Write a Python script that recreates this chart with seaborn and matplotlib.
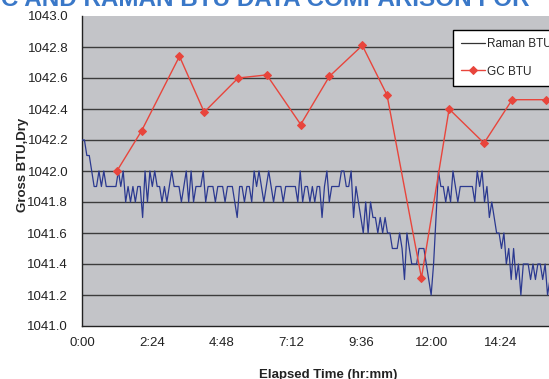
import numpy as np
import pandas as pd
import matplotlib
matplotlib.use("Agg")
import matplotlib.pyplot as plt
import seaborn as sns

"""
Data (read from the picture)
    x : elapsed time in minutes
    y : gross BTU, dry
"""
# Raman analyser, one reading every 5 minutes
raman_btu = [
    1042.2, 1042.2, 1042.1, 1042.1, 1042.0, 1041.9, 1041.9, 1042.0, 1041.9, 1042.0,
    1041.9, 1041.9, 1041.9, 1041.9, 1041.9, 1042.0, 1041.9, 1042.0, 1041.8, 1041.9,
    1041.8, 1041.9, 1041.8, 1041.9, 1041.9, 1041.7, 1042.0, 1041.8, 1042.0, 1041.9,
    1042.0, 1041.9, 1041.9, 1041.8, 1041.9, 1041.8, 1041.9, 1042.0, 1041.9, 1041.9,
    1041.9, 1041.8, 1041.9, 1042.0, 1041.8, 1042.0, 1041.8, 1041.9, 1041.9, 1041.9,
    1042.0, 1041.8, 1041.9, 1041.9, 1041.9, 1041.8, 1041.9, 1041.9, 1041.9, 1041.8,
    1041.9, 1041.9, 1041.9, 1041.8, 1041.7, 1041.9, 1041.9, 1041.8, 1041.9, 1041.9,
    1041.8, 1042.0, 1041.9, 1042.0, 1041.9, 1041.8, 1041.9, 1042.0, 1041.9, 1041.8,
    1041.9, 1041.9, 1041.9, 1041.8, 1041.9, 1041.9, 1041.9, 1041.9, 1041.9, 1041.8,
    1042.0, 1041.8, 1041.9, 1041.9, 1041.8, 1041.9, 1041.8, 1041.9, 1041.9, 1041.7,
    1041.9, 1042.0, 1041.8, 1041.9, 1041.9, 1041.9, 1041.9, 1042.0, 1042.0, 1041.9,
    1041.9, 1042.0, 1041.7, 1041.9, 1041.8, 1041.7, 1041.6, 1041.8, 1041.6, 1041.8,
    1041.7, 1041.7, 1041.6, 1041.7, 1041.6, 1041.7, 1041.6, 1041.6, 1041.5, 1041.5,
    1041.5, 1041.6, 1041.5, 1041.3, 1041.6, 1041.5, 1041.4, 1041.4, 1041.4, 1041.5,
    1041.5, 1041.5, 1041.4, 1041.3, 1041.2, 1041.4, 1041.7, 1042.0, 1041.9, 1041.9,
    1041.8, 1041.9, 1041.8, 1042.0, 1041.9, 1041.8, 1041.9, 1041.9, 1041.9, 1041.9,
    1041.9, 1041.9, 1041.8, 1042.0, 1041.9, 1042.0, 1041.8, 1041.9, 1041.7, 1041.8,
    1041.7, 1041.6, 1041.6, 1041.5, 1041.6, 1041.4, 1041.5, 1041.3, 1041.5, 1041.3,
    1041.4, 1041.2, 1041.4, 1041.4, 1041.4, 1041.3, 1041.4, 1041.3, 1041.4, 1041.4,
    1041.3, 1041.4, 1041.2, 1041.3,
]
raman_minutes = [5 * i for i in range(len(raman_btu))]

# GC samples
gc_minutes = [72, 123, 201, 252, 322, 381, 451, 510, 578, 629, 700, 757, 829, 887, 957]
gc_btu = [1042.00, 1042.26, 1042.74, 1042.38, 1042.60, 1042.62, 1042.30, 1042.61,
          1042.81, 1042.49, 1041.31, 1042.40, 1042.18, 1042.46, 1042.46]

x_ticks = [0, 144, 288, 432, 576, 720, 864]
x_tick_labels = ["0:00", "2:24", "4:48", "7:12", "9:36", "12:00", "14:24"]
y_ticks = [1041.0, 1041.2, 1041.4, 1041.6, 1041.8, 1042.0, 1042.2, 1042.4, 1042.6, 1042.8, 1043.0]


def plot_comparison():
    sns.set_style("white")
    plt.rcParams['font.family'] = ['Liberation Sans', 'DejaVu Sans']

    raman = pd.DataFrame({"minutes": raman_minutes, "btu": raman_btu})
    gc = pd.DataFrame({"minutes": gc_minutes, "btu": gc_btu})

    fig = plt.figure(figsize=(5.49, 3.79), dpi=100)
    ax = fig.add_axes([82 / 549, 53 / 379, 467 / 549, 310 / 379])
    ax.set_facecolor("#C3C4C8")

    for yv in y_ticks[1:-1]:
        ax.axhline(yv, color="#3c3c3c", lw=1.0, zorder=1)

    sns.lineplot(data=raman, x="minutes", y="btu", ax=ax, color="#2B3990",
                 lw=0.9, label="Raman BTU", zorder=3)
    sns.lineplot(data=gc, x="minutes", y="btu", ax=ax, color="#E8453C",
                 lw=1.0, marker="D", markersize=4, markeredgecolor="#E8453C",
                 label="GC BTU", zorder=4)

    ax.set_xlim(0, 963)
    ax.set_ylim(1041.0, 1043.0)
    ax.set_xticks(x_ticks)
    ax.set_xticklabels(x_tick_labels)
    ax.set_yticks(y_ticks)
    ax.set_yticklabels([f"{v:.1f}" for v in y_ticks])
    ax.tick_params(axis="both", direction="out", length=4, width=1,
                   color="#222222", labelsize=9.5, labelcolor="#222222")
    ax.tick_params(axis="x", pad=4)
    ax.tick_params(axis="y", pad=6)

    for side in ["top", "right"]:
        ax.spines[side].set_visible(False)
    for side in ["left", "bottom"]:
        ax.spines[side].set_color("#222222")
        ax.spines[side].set_linewidth(1.0)

    ax.set_xlabel("")
    ax.set_ylabel("Gross BTU,Dry", fontsize=9.5, fontweight="bold", labelpad=4)
    ax.yaxis.set_label_coords(-0.113, 0.52)

    leg = ax.legend(loc="upper left", bbox_to_anchor=((453 - 82) / 467, (326 - 30) / 310),
                    borderaxespad=0, frameon=True, fancybox=False, framealpha=1,
                    edgecolor="black", fontsize=8.5, handlelength=2.0,
                    handletextpad=0.2, labelspacing=1.3, borderpad=0.7)
    leg.get_frame().set_linewidth(1.0)
    leg.get_lines()[0].set_color("#333333")

    fig.text(328 / 549, 1 - 369 / 379, "Elapsed Time (hr:mm)", ha="center", va="top",
             fontsize=9.5, fontweight="bold", color="#222222")
    fig.text(530 / 549, 1 - 6 / 379, "GC AND RAMAN BTU DATA COMPARISON FOR",
             ha="right", va="baseline", fontsize=17.5, fontweight="bold", color="#3A78C8")

    fig.savefig("out.png", dpi=100)


if __name__ == '__main__':
    plot_comparison()
